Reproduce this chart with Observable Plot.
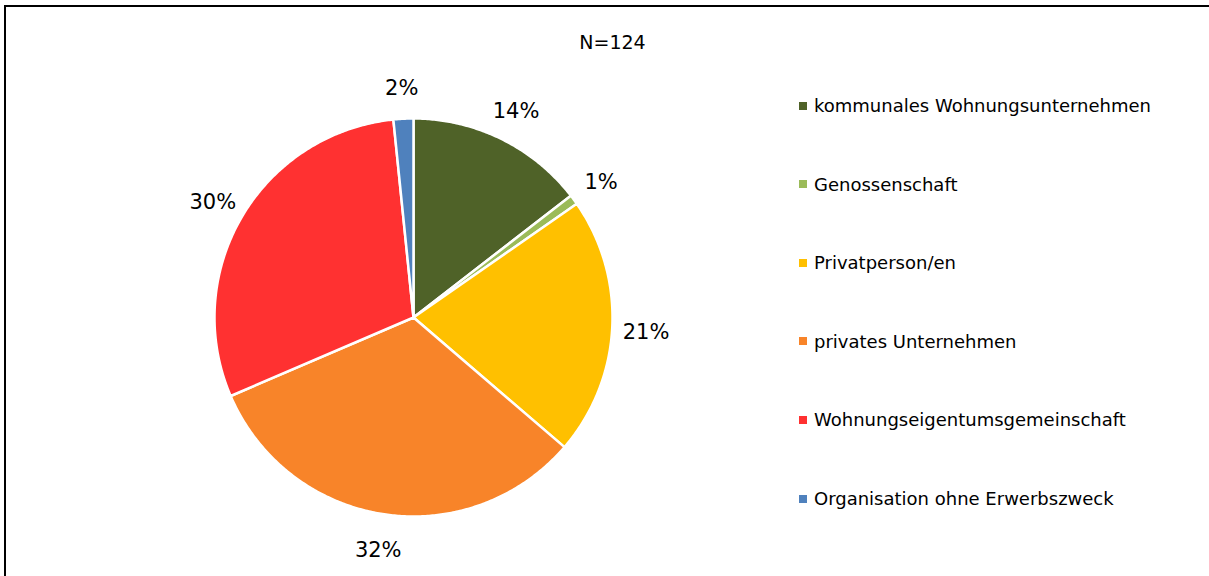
<!DOCTYPE html>
<html>
<head>
<meta charset="utf-8">
<script src="https://cdn.jsdelivr.net/npm/d3@7"></script>
<script src="https://cdn.jsdelivr.net/npm/@observablehq/plot@0.6"></script>
<style>
  html, body { margin: 0; padding: 0; background: #fff; overflow: hidden; }
  #wrap { position: relative; width: 1209px; height: 576px; overflow: hidden; font-family: "DejaVu Sans", sans-serif; }
  #wrap svg { position: absolute; left: 0; top: 0; }
  .frame-top { position: absolute; left: 4px; top: 5px; width: 1205px; height: 2px; background: #000; }
  .frame-left { position: absolute; left: 4px; top: 5px; width: 2px; height: 571px; background: #000; }
  #title { position: absolute; left: 8px; width: 1209px; top: 31px; text-align: center; font-size: 19px; color: #000; }
  #legend { position: absolute; left: 799px; top: 0; }
  .item { position: absolute; left: 0; white-space: nowrap; font-size: 18px; color: #000; display: flex; align-items: center; }
  .sw { width: 8px; height: 8px; margin-right: 7px; display: inline-block; }
</style>
</head>
<body>
<div id="wrap">
  <div id="title">N=124</div>
  <div id="legend"></div>
  <div class="frame-top"></div>
  <div class="frame-left"></div>
</div>
<script>
// ---- data ----
const categories = [
  "kommunales Wohnungsunternehmen",
  "Genossenschaft",
  "Privatperson/en",
  "privates Unternehmen",
  "Wohnungseigentumsgemeinschaft",
  "Organisation ohne Erwerbszweck"
];
const counts = [18, 1, 26, 40, 37, 2];
const percentLabels = ["14%", "1%", "21%", "32%", "30%", "2%"];
const colors = ["#4F6228", "#9BBB59", "#FFC000", "#F88429", "#FF3131", "#4F81BD"];

// ---- pie geometry (unit circle, angles clockwise from 12 o'clock) ----
const arcs = d3.pie().sort(null).value(d => d)(counts);
const step = Math.PI / 360;
const poly = [];
arcs.forEach((a, i) => {
  const name = categories[i];
  poly.push({name, x: 0, y: 0});
  const n = Math.max(2, Math.ceil((a.endAngle - a.startAngle) / step));
  for (let k = 0; k <= n; k++) {
    const t = a.startAngle + (a.endAngle - a.startAngle) * k / n;
    poly.push({name, x: Math.sin(t), y: Math.cos(t)});
  }
  poly.push({name, x: 0, y: 0});
});
const labelR = 1.17;
const labelData = arcs.map((a, i) => {
  const m = (a.startAngle + a.endAngle) / 2;
  return {name: categories[i], label: percentLabels[i], x: labelR * Math.sin(m), y: labelR * Math.cos(m)};
});

const cx = 413, cy = 317, r = 199;
const chart = Plot.plot({
  width: 1209,
  height: 576,
  margin: 0,
  style: {background: "transparent", fontFamily: "DejaVu Sans, sans-serif"},
  x: {domain: [-1, 1], range: [cx - r, cx + r], axis: null},
  y: {domain: [-1, 1], range: [cy + r, cy - r], axis: null},
  color: {domain: categories, range: colors},
  marks: [
    Plot.line(poly, {x: "x", y: "y", z: "name", fill: "name", stroke: "white", strokeWidth: 2.5, strokeLinejoin: "round", curve: "linear"}),
    Plot.text(labelData, {x: "x", y: "y", text: "label", fontSize: 21, dy: 3, fill: "#000"})
  ]
});
document.getElementById("wrap").prepend(chart);

// ---- legend ----
const legend = document.getElementById("legend");
categories.forEach((c, i) => {
  const div = document.createElement("div");
  div.className = "item";
  div.style.top = (95 + i * 78.6) + "px";
  const sw = document.createElement("span");
  sw.className = "sw";
  sw.style.background = colors[i];
  div.appendChild(sw);
  div.appendChild(document.createTextNode(c));
  legend.appendChild(div);
});
</script>
</body>
</html>
